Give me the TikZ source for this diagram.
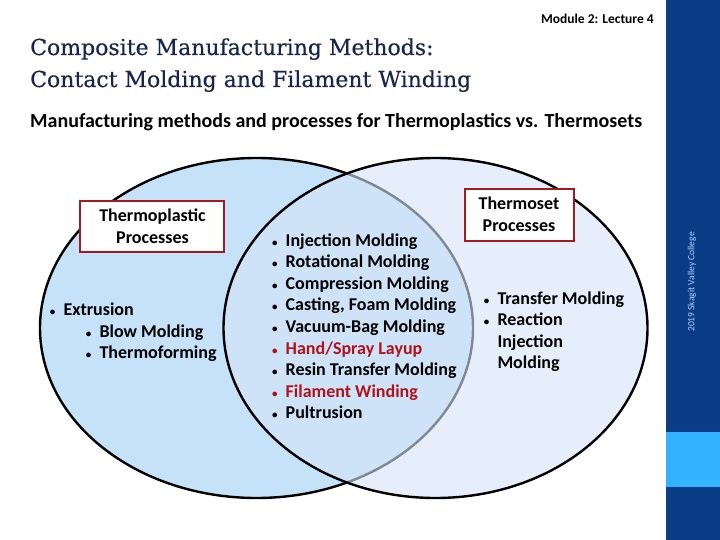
\documentclass[tikz,border=0pt]{standalone}
\usepackage{fontspec}
\setmainfont{Carlito}
\newfontfamily\titlefont[FakeBold=0.4]{DejaVu Serif}
\definecolor{sidebar}{HTML}{0B3D86}
\definecolor{sidelight}{HTML}{33B3FF}
\definecolor{sidetext}{HTML}{A8D4FF}
\definecolor{titleblue}{HTML}{17264A}
\definecolor{leftblue}{RGB}{197,226,248}
\definecolor{rightover}{RGB}{212,228,247}
\definecolor{boxred}{HTML}{A01A1F}
\definecolor{itemred}{HTML}{B0121B}
\newcommand\itm[1]{\llap{{\fontsize{11}{11}\selectfont •}\hspace{8.2pt}}#1}
\tikzset{
  item/.style={anchor=base west, inner sep=0pt, font=\fontsize{18}{21.6}\bfseries\selectfont},
  redtext/.style={text=itemred},
  labelbox/.style={draw=boxred, line width=2.2pt, fill=white, inner sep=0pt},
  boxtext/.style={anchor=base, inner sep=0pt, font=\fontsize{18}{21.6}\bfseries\selectfont},
  ring/.style={line width=2.4pt, draw=black}
}
\begin{document}
\begin{tikzpicture}[x=1pt,y=-1pt]
\useasboundingbox (0,0) rectangle (720,540);
\fill[white] (0,0) rectangle (720,540);
% sidebar
\fill[sidebar] (666,0) rectangle (720,540);
\fill[sidelight] (666,432) rectangle (720,487);
\node[rotate=90, text=sidetext, inner sep=0pt, font=\fontsize{9.5}{10}\selectfont] (copyright) at (692,282) {2019 Skagit Valley College};
% headings
\node[anchor=base east, inner sep=0pt, font=\fontsize{13.5}{16}\bfseries\selectfont] (module) at (654,24) {Module 2: Lecture 4};
\node[anchor=base west, inner sep=0pt, text=titleblue, font=\titlefont\fontsize{22}{32}\selectfont] (title1) at (30,55) {Composite Manufacturing Methods:};
\node[anchor=base west, inner sep=0pt, text=titleblue, font=\titlefont\fontsize{22}{32}\selectfont] (title2) at (30,87) {Contact Molding and Filament Winding};
\node[anchor=base west, inner sep=0pt, font=\fontsize{20}{24}\bfseries\selectfont] (subtitle) at (30,128) {Manufacturing methods and processes for Thermoplastics vs. Thermosets};
% Venn circles
\filldraw[ring, fill=leftblue] (256.5,328) ellipse [x radius=216.5, y radius=170];
\fill[rightover, fill opacity=0.6] (435.5,328) ellipse [x radius=212, y radius=170];
\draw[ring] (435.5,328) ellipse [x radius=212, y radius=170];
% label boxes
\node[labelbox, minimum width=144pt, minimum height=51pt] (tpbox) at (152,226.5) {};
\node[boxtext] (tp1) at (152.5,221.7) {Thermoplastic};
\node[boxtext] (tp2) at (152.5,243.3) {Processes};
\node[labelbox, minimum width=109pt, minimum height=52pt] (tsbox) at (519.5,215) {};
\node[boxtext] (ts1) at (519,210) {Thermoset};
\node[boxtext] (ts2) at (519,231) {Processes};
% left list
\node[item] (l1) at (63.3,315) {\itm{Extrusion}};
\node[item] (l2) at (99.3,337) {\itm{Blow Molding}};
\node[item] (l3) at (99.3,358.5) {\itm{Thermoforming}};
% middle list
\node[item] (m1) at (285.5,246) {\itm{Injection Molding}};
\node[item] (m2) at (285.5,267.6) {\itm{Rotational Molding}};
\node[item] (m3) at (285.5,289.2) {\itm{Compression Molding}};
\node[item] (m4) at (285.5,310.8) {\itm{Casting, Foam Molding}};
\node[item] (m5) at (285.5,332.4) {\itm{Vacuum-Bag Molding}};
\node[item, redtext] (m6) at (285.5,354) {\itm{Hand/Spray Layup}};
\node[item] (m7) at (285.5,375.6) {\itm{Resin Transfer Molding}};
\node[item, redtext] (m8) at (285.5,397.2) {\itm{Filament Winding}};
\node[item] (m9) at (285.5,418.8) {\itm{Pultrusion}};
% right list
\node[item] (r1) at (497.3,304) {\itm{Transfer Molding}};
\node[item] (r2) at (497.3,325.6) {\itm{Reaction}};
\node[item] (r3) at (497.3,347.2) {Injection};
\node[item] (r4) at (497.3,368.8) {Molding};
\end{tikzpicture}
\end{document}
